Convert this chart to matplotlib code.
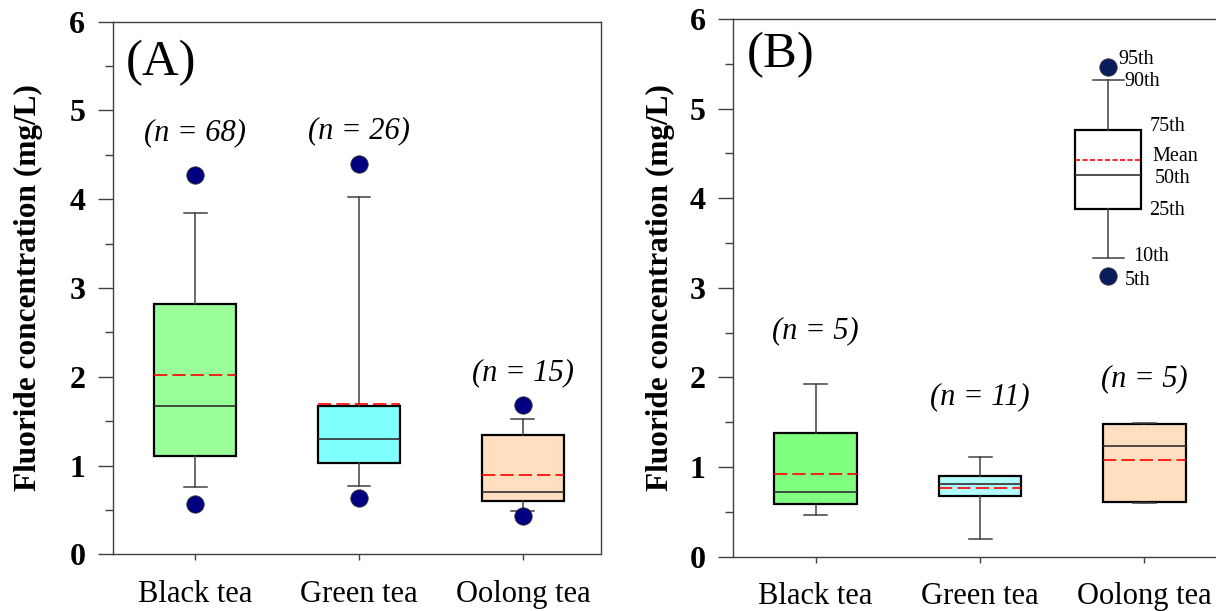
import matplotlib
matplotlib.use("Agg")
import matplotlib.pyplot as plt
from matplotlib.ticker import MultipleLocator

plt.rcParams['font.family'] = ['Liberation Serif', 'DejaVu Serif']

# categorias
teas = ['Black tea', 'Green tea', 'Oolong tea']

# painel A (percentis 5, 10, 25, 50, 75, 90, 95 e média)
a_p5 = [0.57, 0.63, 0.43]
a_p10 = [0.755, 0.765, 0.49]
a_p25 = [1.11, 1.03, 0.60]
a_p50 = [1.67, 1.30, 0.70]
a_p75 = [2.82, 1.67, 1.35]
a_p90 = [3.84, 4.02, 1.53]
a_p95 = [4.27, 4.40, 1.68]
a_mean = [2.02, 1.69, 0.895]
a_n = [68, 26, 15]
a_n_y = [4.75, 4.77, 2.05]

# painel B
b_p10 = [0.465, 0.195, 0.595]
b_p25 = [0.582, 0.68, 0.608]
b_p50 = [0.716, 0.81, 1.23]
b_p75 = [1.38, 0.90, 1.476]
b_p90 = [1.93, 1.11, 1.49]
b_mean = [0.925, 0.77, 1.08]
b_n = [5, 11, 5]
b_n_y = [2.52, 1.78, 1.98]

# caixa da legenda
leg_pos = 2.78
leg_vals = {'p5': 3.13, 'p10': 3.33, 'p25': 3.88, 'p50': 4.26,
            'p75': 4.76, 'p90': 5.32, 'p95': 5.46, 'mean': 4.43}
leg_labels = ['95th', '90th', '75th', 'Mean', '50th', '25th', '10th', '5th']
leg_label_x = [2.84, 2.88, 3.03, 3.05, 3.06, 3.03, 2.93, 2.88]
leg_label_y = [5.55, 5.30, 4.80, 4.47, 4.22, 3.86, 3.35, 3.08]

a_colors = ['#99ff99', '#80ffff', '#ffdfbf']
b_colors = ['#80ff80', '#b3ffff', '#ffdfbf']


def make_stats(lo, q1, med, q3, hi, mean, fliers):
    stats = []
    for i in range(len(med)):
        stats.append({'whislo': lo[i], 'q1': q1[i], 'med': med[i], 'q3': q3[i],
                      'whishi': hi[i], 'mean': mean[i], 'fliers': fliers[i]})
    return stats


def draw_boxes(ax, stats, positions, colors, width, capw, dot_color, mean_ls):
    bp = ax.bxp(stats, positions=positions, widths=width, capwidths=capw,
                patch_artist=True, showmeans=True, meanline=True,
                manage_ticks=False,
                boxprops=dict(edgecolor='black', linewidth=1.6),
                medianprops=dict(color='#303030', linewidth=1.2),
                meanprops=dict(color='red', linewidth=1.2, linestyle=mean_ls),
                whiskerprops=dict(color='#404040', linewidth=1.1),
                capprops=dict(color='#404040', linewidth=1.1),
                flierprops=dict(marker='o', markersize=12.5, markerfacecolor=dot_color,
                                markeredgecolor='#333333', markeredgewidth=0.6,
                                linestyle='none'),
                zorder=2)
    for patch, c in zip(bp['boxes'], colors):
        patch.set_facecolor(c)
    return bp


def style_axis(ax, xmax, lpad):
    ax.set_xlim(0.5, xmax)
    ax.set_ylim(0, 6)
    ax.set_xticks([1, 2, 3])
    ax.set_xticklabels(teas, fontsize=22)
    ax.yaxis.set_major_locator(MultipleLocator(1))
    ax.yaxis.set_minor_locator(MultipleLocator(0.5))
    ax.tick_params(axis='y', which='major', direction='out', length=11, width=1,
                   labelsize=23, pad=9, color='#404040')
    ax.tick_params(axis='y', which='minor', direction='out', length=5.5, width=1,
                   color='#404040')
    ax.tick_params(axis='x', which='major', direction='out', length=4.5, width=1,
                   pad=14, color='#404040')
    for lab in ax.get_yticklabels():
        lab.set_fontweight('bold')
    for sp in ax.spines.values():
        sp.set_linewidth(1.0)
        sp.set_color('#404040')
    ax.set_ylabel('Fluoride concentration (mg/L)', fontsize=22.5, fontweight='bold',
                  labelpad=lpad)


fig = plt.figure(figsize=(12.16, 6.11), dpi=100)
ax1 = fig.add_axes([0.093, 0.0926, 0.4012, 0.872])
ax2 = fig.add_axes([0.6031, 0.089, 0.4057, 0.880])

# Painel A
a_fliers = [[a_p5[i], a_p95[i]] for i in range(3)]
stats_a = make_stats(a_p10, a_p25, a_p50, a_p75, a_p90, a_mean, a_fliers)
draw_boxes(ax1, stats_a, [1, 2, 3], a_colors, 0.5, 0.14, '#000080', (0, (8, 3)))
style_axis(ax1, 3.476, 19)
for i in range(3):
    ax1.text(i + 1, a_n_y[i], f'(n = {a_n[i]})', fontsize=22, style='italic',
             ha='center', va='center')
ax1.text(0.58, 5.54, '(A)', fontsize=36.5, ha='left', va='center')

# Painel B
b_fliers = [[], [], []]
stats_b = make_stats(b_p10, b_p25, b_p50, b_p75, b_p90, b_mean, b_fliers)
draw_boxes(ax2, stats_b, [1, 2, 3], b_colors, 0.5, 0.14, '#0b1c5c', (0, (8, 3)))

# caixa explicativa
leg_stats = [{'whislo': leg_vals['p10'], 'q1': leg_vals['p25'], 'med': leg_vals['p50'],
              'q3': leg_vals['p75'], 'whishi': leg_vals['p90'], 'mean': leg_vals['mean'],
              'fliers': [leg_vals['p5'], leg_vals['p95']]}]
draw_boxes(ax2, leg_stats, [leg_pos], ['white'], 0.40, 0.185, '#0b1c5c', (0, (3, 1.5)))
for lab, x, y in zip(leg_labels, leg_label_x, leg_label_y):
    ax2.text(x, y, lab, fontsize=14.5, ha='left', va='center')

style_axis(ax2, 3.5, 10.5)
for i in range(3):
    ax2.text(i + 1, b_n_y[i], f'(n = {b_n[i]})', fontsize=22, style='italic',
             ha='center', va='center')
ax2.text(0.58, 5.6, '(B)', fontsize=36.5, ha='left', va='center')

fig.savefig('out.png', dpi=100)
